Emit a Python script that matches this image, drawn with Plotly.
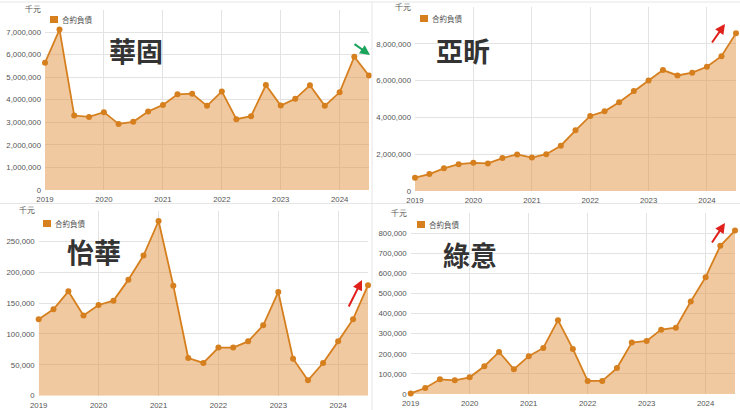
import plotly.graph_objects as go

quarters = ["2019-01-01", "2019-04-01", "2019-07-01", "2019-10-01",
            "2020-01-01", "2020-04-01", "2020-07-01", "2020-10-01",
            "2021-01-01", "2021-04-01", "2021-07-01", "2021-10-01",
            "2022-01-01", "2022-04-01", "2022-07-01", "2022-10-01",
            "2023-01-01", "2023-04-01", "2023-07-01", "2023-10-01",
            "2024-01-01", "2024-04-01", "2024-07-01"]

huagu = [5640000, 7110000, 3300000, 3240000, 3450000, 2930000, 3020000, 3480000,
         3770000, 4240000, 4270000, 3730000, 4370000, 3140000, 3270000, 4650000,
         3740000, 4040000, 4640000, 3730000, 4330000, 5910000, 5070000]
yaxin = [720000, 920000, 1230000, 1460000, 1530000, 1500000, 1790000, 1990000,
         1820000, 2000000, 2460000, 3300000, 4080000, 4330000, 4820000, 5440000,
         6010000, 6570000, 6280000, 6430000, 6750000, 7330000, 8580000]
yihua = [124000, 140000, 169000, 130000, 147000, 154000, 188000, 227000,
         283000, 178000, 61000, 53000, 78000, 78000, 88000, 114000,
         168000, 60000, 25000, 53000, 88000, 124000, 179000]
lvyi = [3000, 30000, 73000, 68000, 83000, 138000, 209000, 123000,
        188000, 229000, 367000, 224000, 65000, 65000, 129000, 256000,
        264000, 320000, 330000, 460000, 581000, 737000, 813000]

names = ["華固", "亞昕", "怡華", "綠意"]
series = [huagu, yaxin, yihua, lvyi]
y_ticks = [
    [0, 1000000, 2000000, 3000000, 4000000, 5000000, 6000000, 7000000, 8000000],
    [0, 2000000, 4000000, 6000000, 8000000, 10000000],
    [0, 50000, 100000, 150000, 200000, 250000, 300000],
    [0, 100000, 200000, 300000, 400000, 500000, 600000, 700000, 800000, 900000],
]
unit_label = "千元"
legend_label = "合約負債"
year_ticks = ["2019-01-01", "2020-01-01", "2021-01-01", "2022-01-01", "2023-01-01", "2024-01-01"]
year_text = ["2019", "2020", "2021", "2022", "2023", "2024"]

W, H = 740, 410
LINE = "#D67F1E"
FILL = "rgba(225,147,65,0.5)"
GRID = "#E3E3E3"
TICKFONT = dict(family="Liberation Sans, Arial, sans-serif", size=7.8, color="#555555")

# panel geometry in pixels: left, right, top, bottom
panels = [
    (45, 369, 9.5, 190),
    (415, 736, 7, 191),
    (38.7, 368, 210.5, 395.7),
    (410.7, 735, 213, 394),
]
title_pos = [(136, 50), (463, 50), (94, 251), (470, 254)]
legend_pos = [(50, 16), (420, 15), (43, 220), (417, 221)]
arrows = [  # head x, head y, dx, dy, color
    (370, 55, -17, -12, "#1AA35A"),
    (725, 24, -14, 20, "#E0201B"),
    (362, 280, -14, 28, "#E0201B"),
    (725, 223, -14, 21, "#E0201B"),
]

def px(x):
    return x / W

def py(y):
    return 1 - y / H

fig = go.Figure()
layout = {}
annotations = []
shapes = []

for i, (nm, vals, ticks) in enumerate(zip(names, series, y_ticks)):
    k = "" if i == 0 else str(i + 1)
    l, r, t, b = panels[i]
    fig.add_trace(go.Scatter(
        x=quarters, y=vals, mode="lines+markers", fill="tozeroy",
        fillcolor=FILL, line=dict(color=LINE, width=1.8),
        marker=dict(color=LINE, size=6), showlegend=False, cliponaxis=False,
        xaxis="x" + k, yaxis="y" + k, name=legend_label,
    ))
    ttext = [f"{v:,}" for v in ticks]
    ttext[-1] = unit_label
    layout["xaxis" + k] = dict(
        domain=[px(l), px(r)], anchor="y" + k, type="date",
        range=[quarters[0], quarters[-1]],
        tickvals=year_ticks, ticktext=year_text, automargin=False,
        showgrid=True, gridcolor=GRID, gridwidth=1, zeroline=False,
        showline=False, ticks="", tickfont=TICKFONT, ticklabelstandoff=3,
    )
    layout["yaxis" + k] = dict(
        domain=[py(b), py(t)], anchor="x" + k, automargin=False,
        range=[0, ticks[-1]], tickvals=ticks, ticktext=ttext,
        showgrid=True, gridcolor=GRID, gridwidth=1, zeroline=False,
        showline=False, ticks="", tickfont=TICKFONT, ticklabelstandoff=3,
    )
    tx, ty = title_pos[i]
    annotations.append(dict(
        x=px(tx), y=py(ty), xref="paper", yref="paper", text="<b>" + nm + "</b>",
        showarrow=False, xanchor="center", yanchor="middle",
        font=dict(family="Noto Sans CJK TC", size=27, color="#333333"),
    ))
    lx, ly = legend_pos[i]
    shapes.append(dict(type="rect", xref="paper", yref="paper",
                       x0=px(lx), x1=px(lx + 8), y0=py(ly + 7), y1=py(ly),
                       fillcolor=LINE, line=dict(width=0)))
    annotations.append(dict(
        x=px(lx + 10), y=py(ly + 3.5), xref="paper", yref="paper", text=legend_label,
        showarrow=False, xanchor="left", yanchor="middle",
        font=dict(family="Noto Sans CJK TC", size=7.5, color="#555555"),
    ))
    hx, hy, dx, dy, col = arrows[i]
    annotations.append(dict(
        x=px(hx), y=py(hy), xref="paper", yref="paper", ax=dx, ay=dy,
        text="", showarrow=True, arrowhead=2, arrowsize=1, arrowwidth=2,
        arrowcolor=col,
    ))

# panel separators
for s in [
    dict(x0=px(372), x1=px(372), y0=0, y1=py(2)),
    dict(x0=0, x1=1, y0=py(203.5), y1=py(203.5)),
    dict(x0=0, x1=1, y0=py(2), y1=py(2)),
]:
    shapes.append(dict(type="line", xref="paper", yref="paper",
                       line=dict(color="#E6E6E6", width=1), **s))

fig.update_layout(
    width=W, height=H, margin=dict(l=0, r=0, t=0, b=0, autoexpand=False),
    paper_bgcolor="white", plot_bgcolor="white",
    annotations=annotations, shapes=shapes, showlegend=False,
    **layout,
)

fig.write_html(
    "out.html",
    config={"displayModeBar": False},
    post_script="document.body.style.margin='0';document.body.style.overflow='hidden';",
)
